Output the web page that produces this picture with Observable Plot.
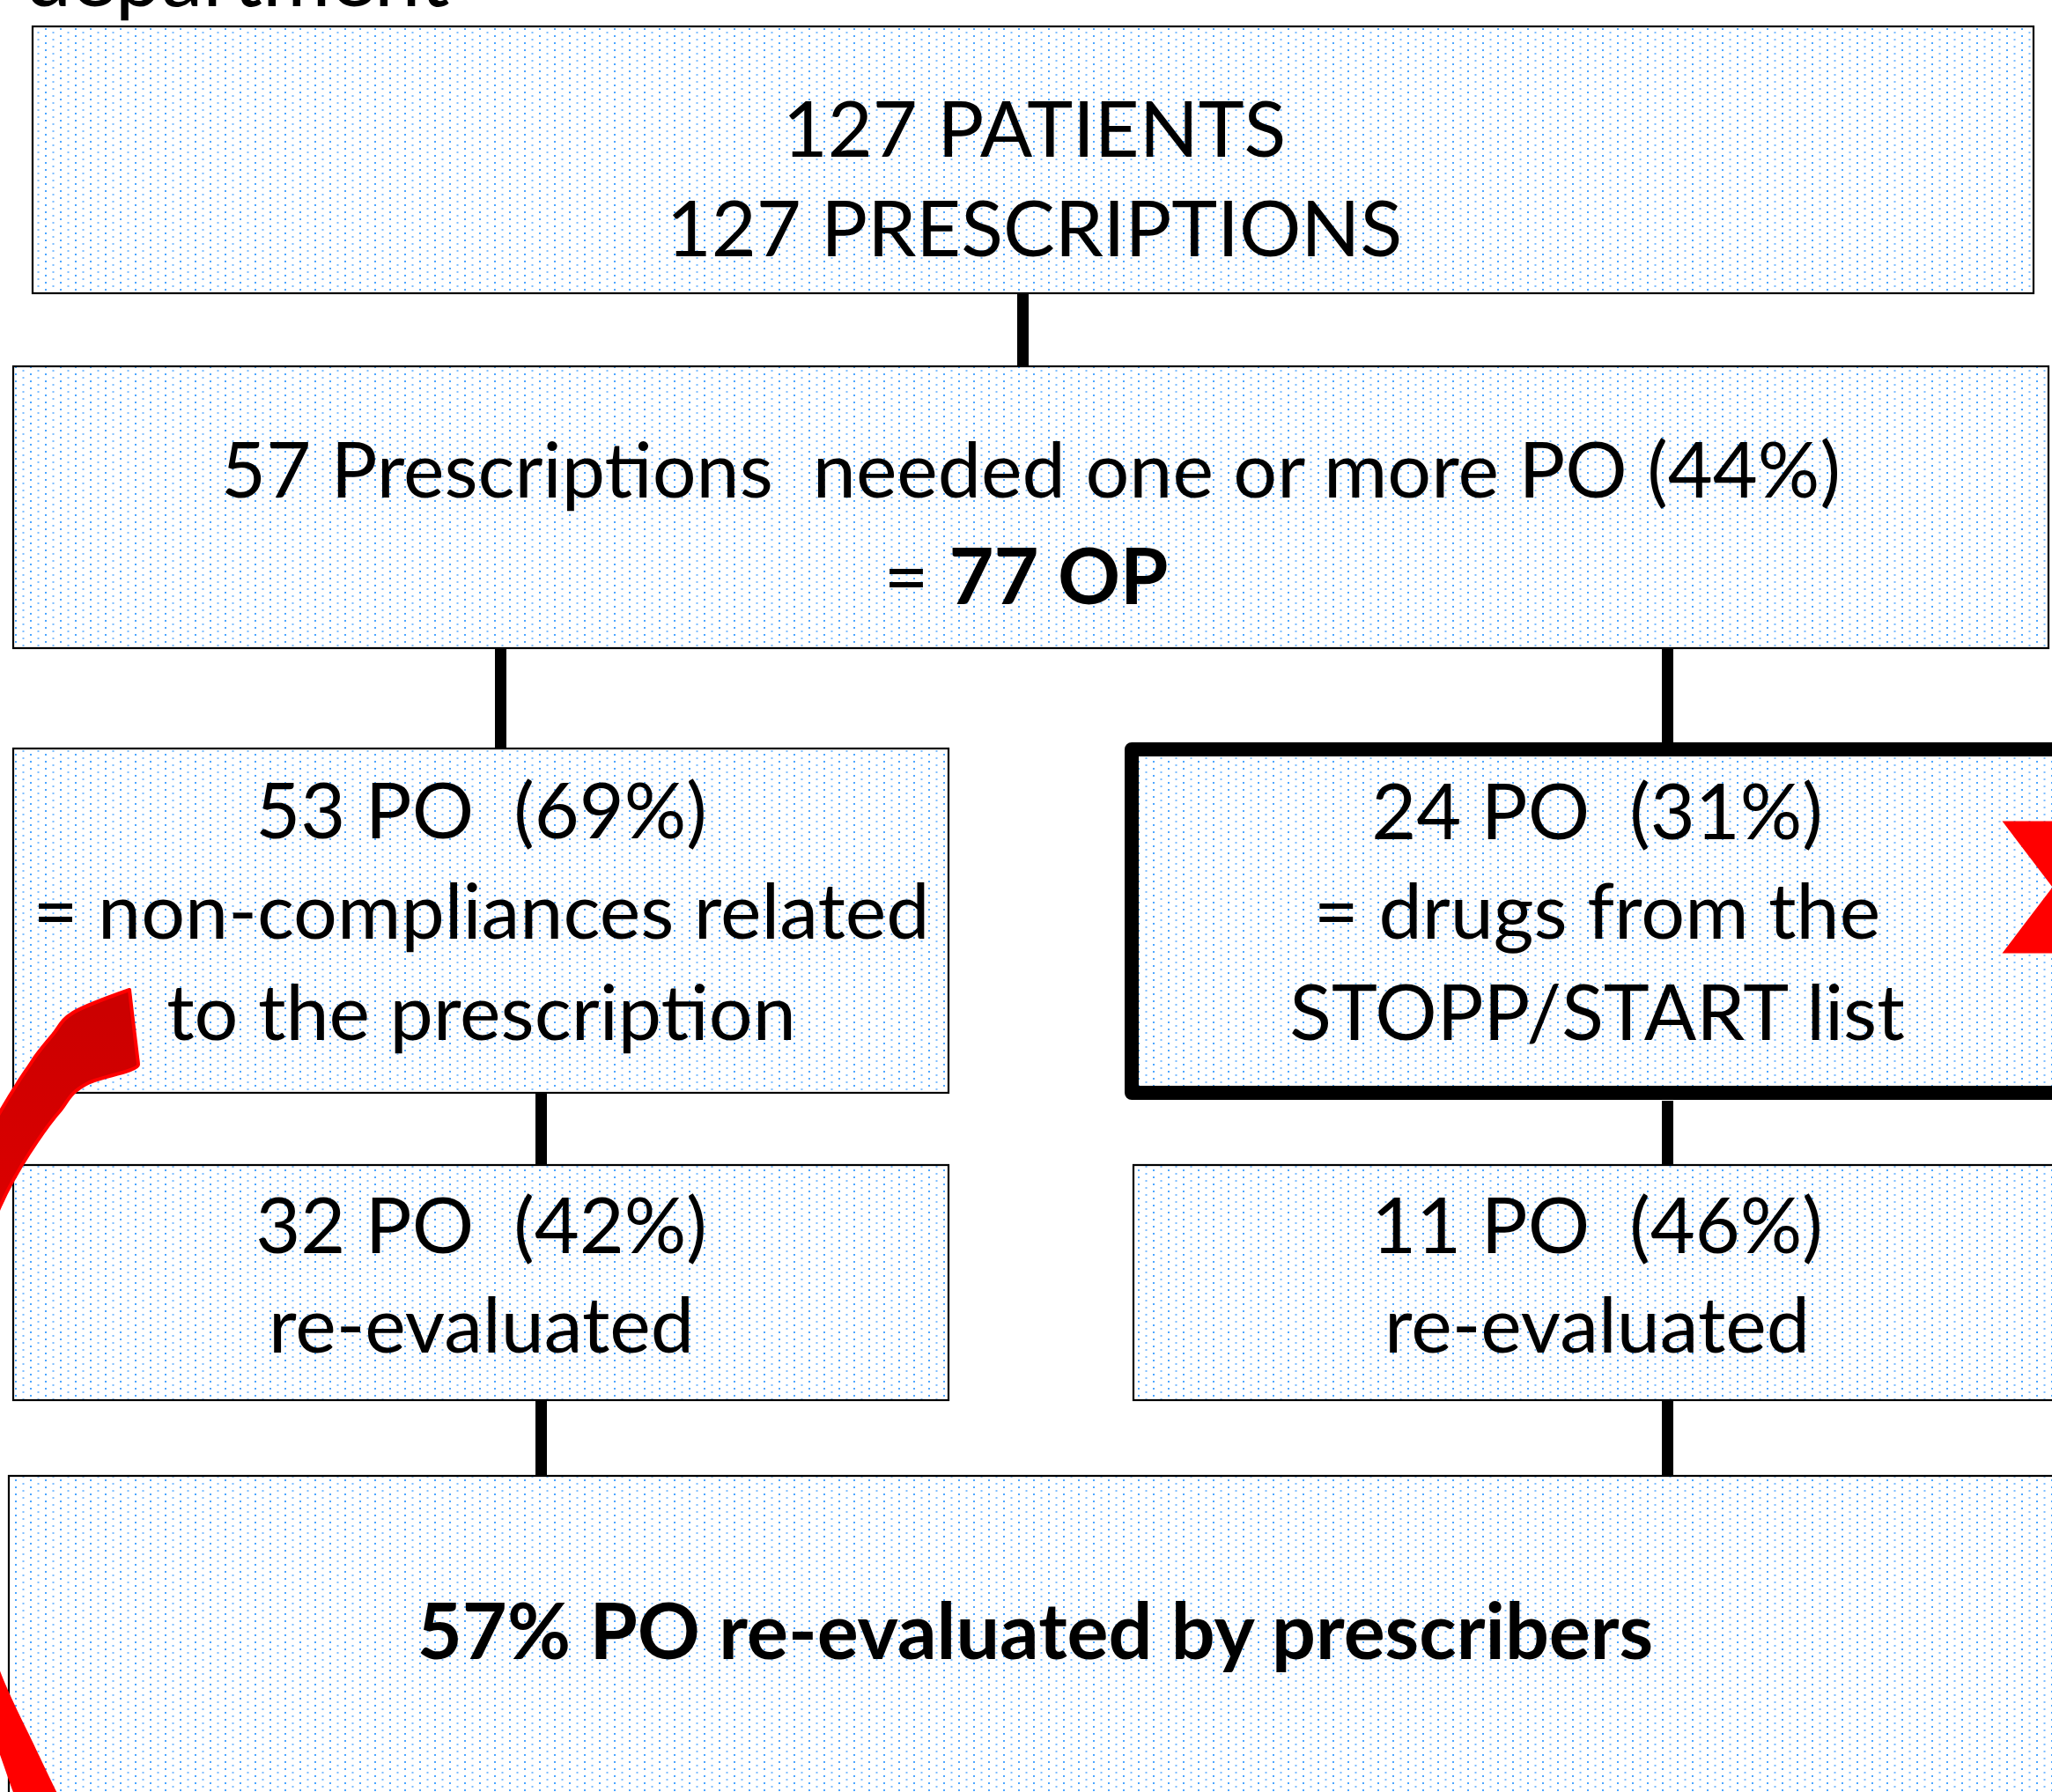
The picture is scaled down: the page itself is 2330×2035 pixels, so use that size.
<!DOCTYPE html>
<html><head><meta charset="utf-8">
<script src="https://cdn.jsdelivr.net/npm/d3@7"></script>
<script src="https://cdn.jsdelivr.net/npm/@observablehq/plot@0.6"></script>
<style>
html,body{margin:0;padding:0;background:#fff;overflow:hidden}
svg text{white-space:pre}
</style></head><body><div id="chart"></div>
<script>
// ---- content ----
const titleText = "department";
const lineTexts = [
  "127 PATIENTS", "127 PRESCRIPTIONS",
  "57 Prescriptions  needed one or more PO (44%)",
  "53 PO  (69%)", "= non-compliances related", "to the prescription",
  "24 PO  (31%)", "= drugs from the", "STOPP/START list",
  "32 PO  (42%)", "re-evaluated",
  "11 PO  (46%)", "re-evaluated"
];
const boldTexts = ["77 OP", "57% PO re-evaluated by prescribers"];
const eqText = "=";

// ---- layout (pixel coordinates of the diagram) ----
const lineX = [1174, 1174, 1170, 546, 546, 546, 1813, 1813, 1813, 546, 546, 1813, 1813];
const lineY = [146, 259, 533, 920, 1034, 1149, 921, 1034, 1149, 1391, 1504, 1391, 1504];
const boldX = [1077, 1175];
const boldY = [654, 1852];

const boxX1 = [37, 15, 15, 15, 1287, 10];
const boxX2 = [2309, 2326, 1077, 1077, 2350, 2350];
const boxY1 = [30, 416, 850, 1323, 1323, 1676];
const boxY2 = [333, 736, 1241, 1590, 1590, 2060];
const thickBox = {x1: 1285, x2: 2350, y1: 851, y2: 1241};

const connX  = [1161, 568, 1893, 614, 1893, 614, 1893];
const connY1 = [333, 736, 736, 1241, 1250, 1590, 1590];
const connY2 = [416, 850, 843, 1323, 1323, 1676, 1676];

const arrowY     = [1124, 1150, 1175, 1200, 1209, 1230, 1263, 1310, 1370, 1450, 1550, 1650, 1750, 1850, 1903, 1987, 2035, 2080];
const arrowOuter = [147,   83,   60,   40,   34,   20,    0,  -25,  -50,  -75,  -92,  -97,  -85,  -55,  -35,    0,   17,   35];
const arrowInner = [147,  150,  153,  156,  157,  100,   67,   33,    0,  -25,  -40,  -45,  -35,  -18,    0,   39,   62,   85];

const chevX = [2273, 2345, 2345, 2273, 2330];
const chevY = [932, 932, 1082, 1082, 1007];

// ---- tables ----
const lines = lineTexts.map((t, i) => ({t, x: lineX[i], y: lineY[i] + 3}));
const bolds = boldTexts.map((t, i) => ({t, x: boldX[i], y: boldY[i] + 3}));
const boxes = boxX1.map((d, i) => ({x1: d, x2: boxX2[i], y1: boxY1[i], y2: boxY2[i]}));
const conns = connX.map((d, i) => ({x: d, y1: connY1[i], y2: connY2[i]}));
const arrow = arrowY.map((y, i) => ({y, a: arrowOuter[i], b: arrowInner[i]}));
const chev = chevX.map((x, i) => ({x, y: chevY[i]}));

const FONT = "Lato, 'Open Sans', sans-serif";
const FS = 88;

const svg = Plot.plot({
  width: 2330, height: 2035, margin: 0,
  x: {domain: [0, 2330], range: [0, 2330], axis: null},
  y: {domain: [0, 2035], range: [0, 2035], axis: null},
  style: {background: "white", overflow: "hidden"},
  marks: [
    Plot.text([titleText], {x: 510, y: -24, text: d => d, textAnchor: "end", fontSize: 94, fontFamily: FONT, fill: "black"}),
    Plot.rect(boxes, {x1: "x1", x2: "x2", y1: "y1", y2: "y2", fill: "url(#dots)", stroke: "black", strokeWidth: 2.2}),
    Plot.rect([thickBox], {x1: "x1", x2: "x2", y1: "y1", y2: "y2", fill: "url(#dots)", stroke: "black", strokeWidth: 16, strokeLinejoin: "round"}),
    Plot.ruleX(conns, {x: "x", y1: "y1", y2: "y2", stroke: "black", strokeWidth: 13}),
    Plot.areaX(arrow, {y: "y", x1: "a", x2: "b", curve: "monotone-y", fill: "url(#arrowGrad)", stroke: "#ff0000", strokeWidth: 4}),
    Plot.line(chev, {x: "x", y: "y", fill: "#ff0000", stroke: "none"}),
    Plot.text(lines, {x: "x", y: "y", text: "t", fontSize: FS, fontFamily: FONT, fill: "black"}),
    Plot.text([eqText], {x: 1054, y: 657, text: d => d, textAnchor: "end", fontSize: FS, fontFamily: FONT, fill: "black"}),
    Plot.text(bolds.slice(0, 1), {x: "x", y: "y", text: "t", textAnchor: "start", fontSize: FS, fontWeight: "bold", fontFamily: FONT, fill: "black"}),
    Plot.text(bolds.slice(1), {x: "x", y: "y", text: "t", fontSize: FS, fontWeight: "bold", fontFamily: FONT, fill: "black"})
  ]
});

const defs = d3.select(svg).insert("defs", ":first-child");
const pat = defs.append("pattern").attr("id", "dots").attr("patternUnits", "userSpaceOnUse")
  .attr("width", 17).attr("height", 8);
pat.append("rect").attr("width", 17).attr("height", 8).attr("fill", "white");
pat.append("rect").attr("x", 0).attr("y", 0).attr("width", 2).attr("height", 2).attr("fill", "#4da6ff");
pat.append("rect").attr("x", 8.5).attr("y", 4).attr("width", 2).attr("height", 2).attr("fill", "#7dbdff");
const grad = defs.append("linearGradient").attr("id", "arrowGrad").attr("gradientUnits", "userSpaceOnUse")
  .attr("x1", 0).attr("y1", 1150).attr("x2", 0).attr("y2", 1900);
grad.append("stop").attr("offset", 0).attr("stop-color", "#cc0000");
grad.append("stop").attr("offset", 1).attr("stop-color", "#ff0000");

document.getElementById("chart").appendChild(svg);
</script>
</body></html>
